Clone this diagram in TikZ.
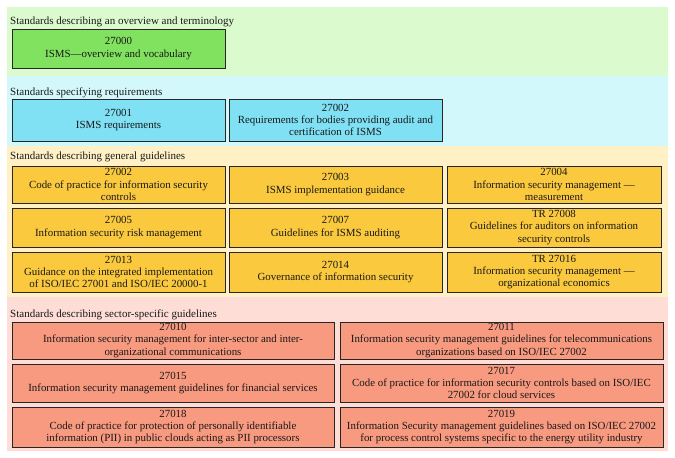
\documentclass[tikz,border=0pt]{standalone}
\usepackage{fontspec}
\setmainfont{Liberation Serif}
\definecolor{bandG}{HTML}{DBFBCE}
\definecolor{bandC}{HTML}{D3F8FC}
\definecolor{bandY}{HTML}{FFF0C6}
\definecolor{bandP}{HTML}{FDDDD6}
\definecolor{boxG}{HTML}{80E25E}
\definecolor{boxC}{HTML}{80E0F4}
\definecolor{boxY}{HTML}{FBC93E}
\definecolor{boxP}{HTML}{F89A80}
\tikzset{
  std/.style={draw=black!85, line width=0.7pt, inner sep=0pt, align=center,
    font=\fontsize{10.9}{12.4}\selectfont, text=black!90},
  gbox/.style={std, fill=boxG},
  cbox/.style={std, fill=boxC},
  ybox/.style={std, fill=boxY},
  pbox/.style={std, fill=boxP},
  hdr/.style={anchor=west, inner sep=0pt, font=\fontsize{11}{13}\selectfont, text=black!90},
}
\newcommand{\bx}[7]{% style, name, x1, y1, x2, y2, text
  \node[#1, minimum width=#5-#3, minimum height=#6-#4] (#2) at ({(#3+#5)/2},{(#4+#6)/2}) {#7};}
\begin{document}
\begin{tikzpicture}[x=1pt,y=-1pt]
\useasboundingbox (0,0) rectangle (675,458);
% bands
\fill[bandG] (7,7) rectangle (668,76);
\fill[bandC] (7,76) rectangle (668,146);
\fill[bandY] (7,146) rectangle (668,297);
\fill[bandP] (7,297) rectangle (668,451);
% headers
\node[hdr] (h1) at (10,22) {Standards describing an overview and terminology};
\node[hdr] (h2) at (10,92.5) {Standards specifying requirements};
\node[hdr] (h3) at (10,157) {Standards describing general guidelines};
\node[hdr] (h4) at (10,315) {Standards describing sector-specific guidelines};
% overview
\bx{gbox}{s27000}{12}{29}{225}{68}{27000\\ISMS—overview and vocabulary}
% requirements
\bx{cbox}{s27001}{12}{99}{225}{141}{27001\\ISMS requirements}
\bx{cbox}{s27006}{229}{99}{442}{141}{27002\\Requirements for bodies providing audit and\\certification of ISMS}
% general guidelines
\bx{ybox}{s27002}{12}{166}{225}{203}{27002\\Code of practice for information security\\controls}
\bx{ybox}{s27003}{229}{166}{442}{203}{27003\\ISMS implementation guidance}
\bx{ybox}{s27004}{447}{166}{661}{203}{27004\\Information security management —\\measurement}
\bx{ybox}{s27005}{12}{208}{225}{247}{27005\\Information security risk management}
\bx{ybox}{s27007}{229}{208}{442}{247}{27007\\Guidelines for ISMS auditing}
\bx{ybox}{s27008}{447}{208}{661}{247}{TR 27008\\Guidelines for auditors on information\\security controls}
\bx{ybox}{s27013}{12}{252}{225}{292}{27013\\Guidance on the integrated implementation\\of ISO/IEC 27001 and ISO/IEC 20000-1}
\bx{ybox}{s27014}{229}{252}{442}{292}{27014\\Governance of information security}
\bx{ybox}{s27016}{447}{252}{661}{292}{TR 27016\\Information security management —\\organizational economics}
% sector-specific
\bx{pbox}{s27010}{12}{322}{334}{359}{27010\\Information security management for inter-sector and inter-\\organizational communications}
\bx{pbox}{s27011}{340}{322}{663}{359}{27011\\Information security management guidelines for telecommunications\\organizations based on ISO/IEC 27002}
\bx{pbox}{s27015}{12}{364}{334}{402}{27015\\Information security management guidelines for financial services}
\bx{pbox}{s27017}{340}{364}{663}{402}{27017\\Code of practice for information security controls based on ISO/IEC\\27002 for cloud services}
\bx{pbox}{s27018}{12}{407}{334}{447}{27018\\Code of practice for protection of personally identifiable\\information (PII) in public clouds acting as PII processors}
\bx{pbox}{s27019}{340}{407}{663}{447}{27019\\Information Security management guidelines based on ISO/IEC 27002\\for process control systems specific to the energy utility industry}
\end{tikzpicture}
\end{document}
